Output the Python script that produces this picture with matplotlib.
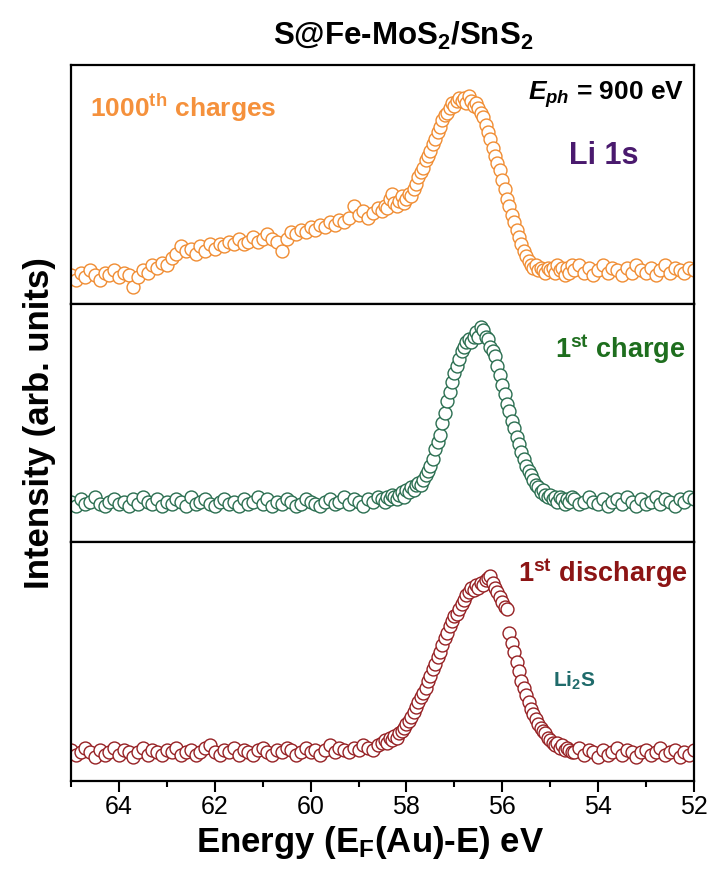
import matplotlib
matplotlib.use("Agg")
import matplotlib.pyplot as plt
import numpy as np

plt.rcParams['font.family'] = ['Liberation Sans', 'DejaVu Sans']
plt.rcParams['mathtext.fontset'] = 'custom'
plt.rcParams['mathtext.rm'] = 'Liberation Sans:bold'
plt.rcParams['mathtext.bf'] = 'Liberation Sans:bold'
plt.rcParams['mathtext.it'] = 'Liberation Sans:italic:bold'

# energy grid (eV): coarse on baseline, finer across the peak
energy = np.concatenate([np.arange(65.0, 58.55, -0.1),
                         np.arange(58.5, 54.525, -0.05),
                         np.arange(54.5, 51.95, -0.1)])

# normalised intensities (fraction of each panel height)
charge_1000 = [
    0.12, 0.10, 0.13, 0.11, 0.14, 0.12, 0.10, 0.13, 0.12, 0.14,
    0.11, 0.13, 0.12, 0.07, 0.11, 0.14, 0.13, 0.16, 0.15, 0.17,
    0.16, 0.19, 0.21, 0.24, 0.22, 0.23, 0.21, 0.24, 0.22, 0.25,
    0.23, 0.25, 0.24, 0.26, 0.25, 0.27, 0.25, 0.26, 0.28, 0.26,
    0.27, 0.29, 0.27, 0.26, 0.22, 0.27, 0.30, 0.29, 0.31, 0.30,
    0.32, 0.31, 0.33, 0.32, 0.34, 0.33, 0.35, 0.34, 0.36, 0.41,
    0.37, 0.39, 0.36, 0.38, 0.40,
    0.39, 0.41, 0.40, 0.44, 0.46, 0.42, 0.41, 0.43, 0.45, 0.42,
    0.44, 0.46, 0.45, 0.48, 0.50, 0.53, 0.55, 0.57, 0.60, 0.62,
    0.64, 0.67, 0.69, 0.72, 0.74, 0.77, 0.79, 0.80, 0.82, 0.84,
    0.83, 0.85, 0.86, 0.85, 0.86, 0.84, 0.87, 0.85, 0.83, 0.84,
    0.82, 0.80, 0.78, 0.75, 0.72, 0.69, 0.65, 0.62, 0.59, 0.56,
    0.52, 0.48, 0.44, 0.41, 0.37, 0.34, 0.31, 0.28, 0.25, 0.22,
    0.20, 0.18, 0.16, 0.15, 0.16, 0.14, 0.15, 0.14, 0.13, 0.15,
    0.14, 0.15, 0.13, 0.16, 0.14, 0.15, 0.12, 0.15, 0.13, 0.16,
    0.14, 0.16, 0.13, 0.15, 0.12, 0.14, 0.16, 0.13, 0.15, 0.14,
    0.12, 0.15, 0.13, 0.16, 0.14, 0.13, 0.15, 0.12, 0.14, 0.16,
    0.13, 0.15, 0.14, 0.13, 0.15, 0.14,
]

charge_1st = [
    0.17, 0.15, 0.18, 0.16, 0.17, 0.19, 0.16, 0.15, 0.17, 0.18,
    0.16, 0.17, 0.15, 0.18, 0.16, 0.19, 0.17, 0.16, 0.18, 0.15,
    0.17, 0.16, 0.18, 0.17, 0.15, 0.19, 0.16, 0.17, 0.18, 0.16,
    0.15, 0.17, 0.18, 0.16, 0.17, 0.15, 0.18, 0.16, 0.17, 0.19,
    0.16, 0.18, 0.15, 0.17, 0.16, 0.18, 0.17, 0.15, 0.16, 0.18,
    0.17, 0.16, 0.15, 0.17, 0.18, 0.16, 0.17, 0.19, 0.16, 0.18,
    0.17, 0.15, 0.18, 0.17, 0.19,
    0.18, 0.17, 0.19, 0.18, 0.20, 0.19, 0.18, 0.20, 0.21, 0.19,
    0.22, 0.21, 0.23, 0.22, 0.24, 0.25, 0.24, 0.26, 0.28, 0.30,
    0.32, 0.35, 0.39, 0.42, 0.45, 0.50, 0.54, 0.59, 0.63, 0.67,
    0.71, 0.74, 0.77, 0.80, 0.82, 0.84, 0.85, 0.84, 0.86, 0.88,
    0.86, 0.90, 0.89, 0.86, 0.85, 0.82, 0.80, 0.78, 0.74, 0.70,
    0.66, 0.62, 0.58, 0.55, 0.51, 0.48, 0.44, 0.41, 0.38, 0.35,
    0.32, 0.30, 0.28, 0.26, 0.24, 0.23, 0.21, 0.22, 0.20, 0.19,
    0.20, 0.18, 0.19, 0.17, 0.19, 0.18, 0.16, 0.18, 0.17, 0.19,
    0.18, 0.16, 0.17, 0.19, 0.17, 0.16, 0.18, 0.15, 0.17, 0.18,
    0.16, 0.19, 0.17, 0.15, 0.18, 0.16, 0.17, 0.19, 0.16, 0.18,
    0.17, 0.15, 0.18, 0.17, 0.19, 0.18,
]

discharge_1st = [
    0.13, 0.11, 0.12, 0.14, 0.12, 0.10, 0.13, 0.11, 0.12, 0.14,
    0.11, 0.13, 0.12, 0.10, 0.12, 0.14, 0.11, 0.13, 0.12, 0.11,
    0.13, 0.12, 0.14, 0.11, 0.12, 0.13, 0.11, 0.12, 0.14, 0.15,
    0.12, 0.11, 0.13, 0.12, 0.14, 0.11, 0.13, 0.12, 0.11, 0.13,
    0.14, 0.12, 0.11, 0.13, 0.12, 0.14, 0.13, 0.11, 0.12, 0.14,
    0.12, 0.13, 0.11, 0.13, 0.15, 0.12, 0.14, 0.13, 0.12, 0.14,
    0.13, 0.15, 0.14, 0.13, 0.15,
    0.16, 0.17, 0.16, 0.18, 0.17, 0.19, 0.18, 0.20, 0.21, 0.22,
    0.24, 0.25, 0.27, 0.29, 0.31, 0.33, 0.35, 0.37, 0.39, 0.42,
    0.44, 0.47, 0.49, 0.52, 0.54, 0.57, 0.60, 0.62, 0.65, 0.67,
    0.69, 0.70, 0.72, 0.74, 0.76, 0.78, 0.79, 0.81, 0.80, 0.82,
    0.81, 0.83, 0.82, 0.84, 0.85, 0.86, 0.83, 0.81, 0.79, 0.77,
    0.75, 0.73, 0.72, 0.62, 0.58, 0.54, 0.50, 0.46, 0.42, 0.39,
    0.36, 0.33, 0.30, 0.28, 0.26, 0.24, 0.22, 0.21, 0.20, 0.18,
    0.17, 0.16, 0.15, 0.16, 0.14, 0.15, 0.13, 0.14, 0.13, 0.12,
    0.12, 0.14, 0.11, 0.13, 0.12, 0.10, 0.13, 0.11, 0.12, 0.14,
    0.11, 0.13, 0.12, 0.10, 0.12, 0.13, 0.11, 0.12, 0.14, 0.11,
    0.12, 0.13, 0.10, 0.12, 0.11, 0.13,
]

series = [charge_1000, charge_1st, discharge_1st]
marker_colors = ['#F08C32', '#2A6E50', '#962023']

fig, axes = plt.subplots(3, 1, sharex=True, figsize=(7.11, 8.72), dpi=100,
                         gridspec_kw=dict(hspace=0))
fig.subplots_adjust(left=0.0999, right=0.976, bottom=0.1044, top=0.9255)

for ax, y, c in zip(axes, series, marker_colors):
    ax.plot(energy, y, 'o', ms=9.3, mfc='white', mec=c, mew=1.0)
    ax.set_ylim(0, 1)
    ax.set_yticks([])
    for s in ax.spines.values():
        s.set_linewidth(1.6)
    ax.tick_params(axis='x', which='both', bottom=False, labelbottom=False)

ax = axes[-1]
ax.set_xlim(65, 52)
ax.set_xticks(np.arange(64, 51, -2))
ax.set_xticks(np.arange(65, 51, -1), minor=True)
ax.tick_params(axis='x', which='both', bottom=True, labelbottom=True,
               direction='out', width=1.5, labelsize=18, pad=2)
ax.tick_params(axis='x', which='major', length=8)
ax.tick_params(axis='x', which='minor', length=4)

t = axes[0].transAxes
axes[0].text(0.03, 0.82, r'1000$^{\rm th}$ charges', transform=t, color='#F5913C',
             fontsize=19, fontweight='bold', ha='left', va='center')
axes[0].text(0.985, 0.875, r'$E_{ph}$ = 900 eV', transform=t, color='black',
             fontsize=19, fontweight='bold', ha='right', va='center')
axes[0].text(0.855, 0.62, 'Li 1s', transform=t, color='#4A1A6E',
             fontsize=22, fontweight='bold', ha='center', va='center')
axes[1].text(0.987, 0.81, r'1$^{\rm st}$ charge', transform=axes[1].transAxes,
             color='#1E6E1E', fontsize=19.5, fontweight='bold', ha='right', va='center')
axes[2].text(0.99, 0.87, r'1$^{\rm st}$ discharge', transform=axes[2].transAxes,
             color='#8C1414', fontsize=19.5, fontweight='bold', ha='right', va='center')
axes[2].text(0.774, 0.42, r'Li$_2$S', transform=axes[2].transAxes,
             color='#1F6B6B', fontsize=15, fontweight='bold', ha='left', va='center')

fig.text(403 / 711, 1 - 36 / 872, r'S@Fe-MoS$_2$/SnS$_2$', fontsize=22.5,
         fontweight='bold', ha='center', va='center')
fig.text(370 / 711, 1 - 842 / 872, r'Energy (E$_{\rm F}$(Au)-E) eV', fontsize=25,
         fontweight='bold', ha='center', va='center')
fig.text(40 / 711, 1 - 423 / 872, 'Intensity (arb. units)', fontsize=25,
         fontweight='bold', ha='center', va='center', rotation=90)

fig.savefig('out.png', dpi=100)
